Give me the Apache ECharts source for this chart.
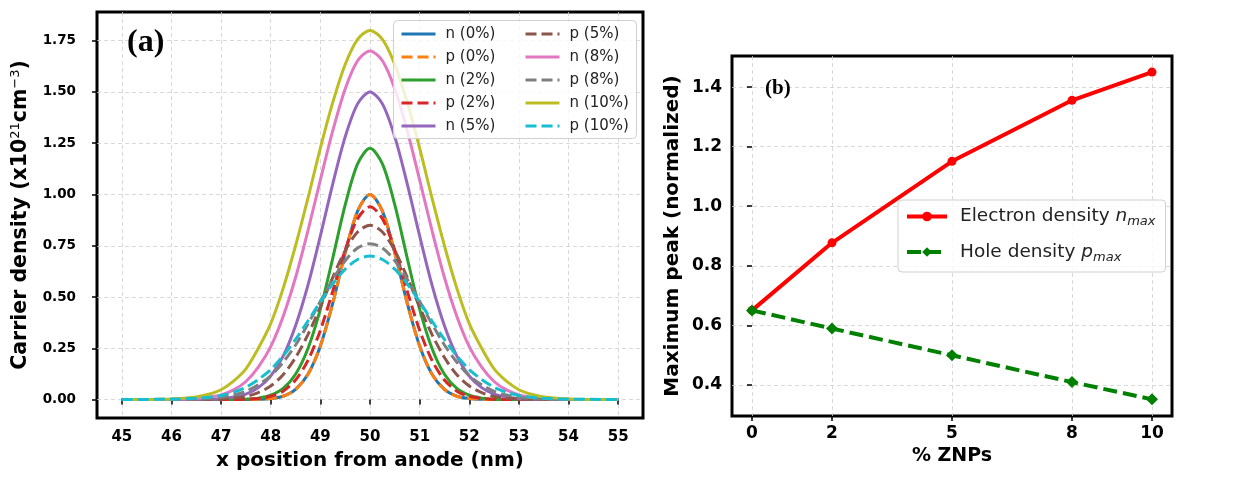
<!DOCTYPE html>
<html>
<head>
<meta charset="utf-8">
<script src="https://cdn.jsdelivr.net/npm/echarts@6/dist/echarts.min.js"></script>
<style>
  html, body { margin: 0; padding: 0; background: #fff; }
  #chart { width: 1241px; height: 480px; }
</style>
</head>
<body>
<div id="chart"></div>
<script>
// panel (a): positions along the device (nm)
const xPos = [45, 46, 46.5, 46.75, 47, 47.25, 47.5, 47.75, 48, 48.25, 48.5, 48.75, 49, 49.25, 49.5, 49.75, 50,
              50.25, 50.5, 50.75, 51, 51.25, 51.5, 51.75, 52, 52.25, 52.5, 52.75, 53, 53.25, 53.5, 54, 55];
// carrier densities (x10^21 cm^-3)
const n0  = [0, 0, 0, 0, 0, 0, 0.0002, 0.001, 0.005, 0.016, 0.049, 0.123, 0.261, 0.470, 0.715, 0.919, 1.000,
             0.919, 0.715, 0.470, 0.261, 0.123, 0.049, 0.016, 0.005, 0.001, 0.0002, 0, 0, 0, 0, 0, 0];
const p0  = [0, 0, 0, 0, 0, 0, 0.0002, 0.001, 0.005, 0.016, 0.049, 0.123, 0.261, 0.470, 0.715, 0.919, 1.000,
             0.919, 0.715, 0.470, 0.261, 0.123, 0.049, 0.016, 0.005, 0.001, 0.0002, 0, 0, 0, 0, 0, 0];
const n2  = [0, 0, 0, 0, 0, 0.0006, 0.002, 0.007, 0.021, 0.054, 0.123, 0.249, 0.441, 0.690, 0.949, 1.149, 1.225,
             1.149, 0.949, 0.690, 0.441, 0.249, 0.123, 0.054, 0.021, 0.007, 0.002, 0.0006, 0, 0, 0, 0, 0];
const p2  = [0, 0, 0, 0, 0, 0.0004, 0.0016, 0.005, 0.016, 0.041, 0.095, 0.191, 0.338, 0.529, 0.729, 0.882, 0.940,
             0.882, 0.729, 0.529, 0.338, 0.191, 0.095, 0.041, 0.016, 0.005, 0.0016, 0.0004, 0, 0, 0, 0, 0];
const n5  = [0, 0, 0.0005, 0.0015, 0.004, 0.012, 0.026, 0.058, 0.115, 0.212, 0.360, 0.558, 0.798, 1.052, 1.281, 1.442, 1.500,
             1.442, 1.281, 1.052, 0.798, 0.558, 0.360, 0.212, 0.115, 0.058, 0.026, 0.012, 0.004, 0.0015, 0.0005, 0, 0];
const p5  = [0, 0, 0, 0.001, 0.003, 0.007, 0.015, 0.034, 0.066, 0.121, 0.205, 0.317, 0.452, 0.596, 0.726, 0.817, 0.850,
             0.817, 0.726, 0.596, 0.452, 0.317, 0.205, 0.121, 0.066, 0.034, 0.015, 0.007, 0.003, 0.001, 0, 0, 0];
const n8  = [0, 0.001, 0.005, 0.011, 0.022, 0.047, 0.088, 0.158, 0.258, 0.405, 0.595, 0.824, 1.071, 1.311, 1.515, 1.652, 1.700,
             1.652, 1.515, 1.311, 1.071, 0.824, 0.595, 0.405, 0.258, 0.158, 0.088, 0.047, 0.022, 0.011, 0.005, 0.001, 0];
const p8  = [0, 0.001, 0.002, 0.005, 0.011, 0.022, 0.040, 0.072, 0.116, 0.182, 0.266, 0.368, 0.479, 0.586, 0.677, 0.739, 0.760,
             0.739, 0.677, 0.586, 0.479, 0.368, 0.266, 0.182, 0.116, 0.072, 0.040, 0.022, 0.011, 0.005, 0.002, 0.001, 0];
const n10 = [0, 0.003, 0.013, 0.026, 0.048, 0.090, 0.150, 0.250, 0.370, 0.542, 0.750, 0.982, 1.226, 1.449, 1.634, 1.757, 1.800,
             1.757, 1.634, 1.449, 1.226, 0.982, 0.750, 0.542, 0.370, 0.250, 0.150, 0.090, 0.048, 0.026, 0.013, 0.003, 0];
const p10 = [0, 0.002, 0.006, 0.011, 0.020, 0.036, 0.060, 0.098, 0.146, 0.213, 0.293, 0.383, 0.477, 0.564, 0.636, 0.683, 0.700,
             0.683, 0.636, 0.564, 0.477, 0.383, 0.293, 0.213, 0.146, 0.098, 0.060, 0.036, 0.020, 0.011, 0.006, 0.002, 0];
const xTicksA = [45, 46, 47, 48, 49, 50, 51, 52, 53, 54, 55];
const yTicksA = [0, 0.25, 0.5, 0.75, 1.0, 1.25, 1.5, 1.75];

// panel (b): normalized peaks vs ZNP loading
const znp = [0, 2, 5, 8, 10];
const nMax = [0.65, 0.877, 1.151, 1.356, 1.451];
const pMax = [0.65, 0.589, 0.499, 0.409, 0.351];
const yTicksB = [0.4, 0.6, 0.8, 1.0, 1.2, 1.4];

const FONT = 'DejaVu Sans';
const tab = ['#1f77b4', '#ff7f0e', '#2ca02c', '#d62728', '#9467bd',
             '#8c564b', '#e377c2', '#7f7f7f', '#bcbd22', '#17becf'];

const curves = [
  ['n (0%)', n0, false], ['p (0%)', p0, true],
  ['n (2%)', n2, false], ['p (2%)', p2, true],
  ['n (5%)', n5, false], ['p (5%)', p5, true],
  ['n (8%)', n8, false], ['p (8%)', p8, true],
  ['n (10%)', n10, false], ['p (10%)', p10, true]
];

// 网格虚线
const gridLine = { show: true, lineStyle: { color: '#cfcfcf', type: [4, 3], width: 0.8 } };
const tickStyle = { show: true, inside: false, length: 5, lineStyle: { color: '#000', width: 1.5 } };

const seriesA = curves.map((c, i) => ({
  name: c[0],
  type: 'line',
  xAxisIndex: 0,
  yAxisIndex: 0,
  data: xPos.map((x, k) => [x, c[1][k]]),
  showSymbol: false,
  symbol: 'none',
  smooth: 0.3,
  color: tab[i],
  lineStyle: { width: 3, color: tab[i], type: c[2] ? [11, 5] : 'solid' },
  z: 2
}));

const seriesB = [
  {
    name: 'Electron density',
    type: 'line',
    xAxisIndex: 1, yAxisIndex: 1,
    data: znp.map((x, k) => [x, nMax[k]]),
    symbol: 'circle', symbolSize: 9,
    color: '#ff0000',
    lineStyle: { width: 4, color: '#ff0000' },
    itemStyle: { color: '#ff0000' },
    z: 3
  },
  {
    name: 'Hole density',
    type: 'line',
    xAxisIndex: 1, yAxisIndex: 1,
    data: znp.map((x, k) => [x, pMax[k]]),
    symbol: 'diamond', symbolSize: 12,
    color: '#008000',
    lineStyle: { width: 4, color: '#008000', type: [14, 6] },
    itemStyle: { color: '#008000' },
    z: 4
  }
];

const legendA = (names, left) => ({
  data: names,
  orient: 'vertical',
  left: left, top: 25,
  padding: 0,
  itemWidth: 34, itemHeight: 14, itemGap: 5,
  itemStyle: { opacity: 0 },
  lineStyle: { width: 3 },
  textStyle: { fontFamily: FONT, fontSize: 15, color: '#222', lineHeight: 18, padding: [0, 0, 0, 5] },
  z: 5
});

const chart = echarts.init(document.getElementById('chart'));
chart.setOption({
  animation: false,
  backgroundColor: '#fff',
  title: [
    { text: '(a)', left: 127, top: 27, padding: 0,
      textStyle: { fontFamily: 'Liberation Serif', fontWeight: 'bold', fontSize: 32, color: '#000' } },
    { text: '(b)', left: 765, top: 78, padding: 0,
      textStyle: { fontFamily: 'Liberation Serif', fontWeight: 'bold', fontSize: 21, color: '#000' } }
  ],
  grid: [
    { left: 97, top: 12, width: 546, height: 406, show: true, borderColor: '#000', borderWidth: 3,
      backgroundColor: 'transparent', outerBoundsMode: 'none', containLabel: false },
    { left: 732, top: 56, width: 440, height: 360, show: true, borderColor: '#000', borderWidth: 3,
      backgroundColor: 'transparent', outerBoundsMode: 'none', containLabel: false }
  ],
  xAxis: [
    {
      gridIndex: 0, type: 'value', min: 44.5, max: 55.5,
      axisLine: { show: false },
      axisTick: Object.assign({ customValues: xTicksA }, tickStyle),
      splitLine: gridLine,
      axisLabel: { customValues: xTicksA, margin: 12, fontFamily: FONT, fontWeight: 'bold', fontSize: 15, color: '#000' },
      name: 'x position from anode (nm)', nameLocation: 'middle', nameGap: 33,
      nameTextStyle: { fontFamily: FONT, fontWeight: 'bold', fontSize: 20, color: '#000' }
    },
    {
      gridIndex: 1, type: 'value', min: -0.5, max: 10.5,
      axisLine: { show: false },
      axisTick: Object.assign({ customValues: znp }, tickStyle),
      splitLine: gridLine,
      axisLabel: { customValues: znp, margin: 9, fontFamily: FONT, fontWeight: 'bold', fontSize: 17, color: '#000' },
      name: '% ZNPs', nameLocation: 'middle', nameGap: 31,
      nameTextStyle: { fontFamily: FONT, fontWeight: 'bold', fontSize: 19, color: '#000' }
    }
  ],
  yAxis: [
    {
      gridIndex: 0, type: 'value', min: -0.09, max: 1.89,
      axisLine: { show: false },
      axisTick: Object.assign({ customValues: yTicksA }, tickStyle),
      splitLine: gridLine,
      axisLabel: { customValues: yTicksA, margin: 21, fontFamily: FONT, fontWeight: 'bold', fontSize: 13.5, color: '#000',
        formatter: v => v.toFixed(2) },
      name: '{b|Carrier density (x10}{s|21}{b|cm}{s|−3}{b|)}',
      nameLocation: 'middle', nameGap: 64, nameRotate: 90,
      nameTextStyle: {
        rich: {
          b: { fontFamily: FONT, fontWeight: 'bold', fontSize: 20.5, color: '#000', lineHeight: 24 },
          s: { fontFamily: FONT, fontSize: 13, color: '#000', verticalAlign: 'top', lineHeight: 13 }
        }
      }
    },
    {
      gridIndex: 1, type: 'value', min: 0.295, max: 1.505,
      axisLine: { show: false },
      axisTick: Object.assign({ customValues: yTicksB }, tickStyle),
      splitLine: gridLine,
      axisLabel: { customValues: yTicksB, margin: 10, fontFamily: FONT, fontWeight: 'bold', fontSize: 17, color: '#000',
        formatter: v => v.toFixed(1) },
      name: 'Maximum peak (normalized)', nameLocation: 'middle', nameGap: 49, nameRotate: 90,
      nameTextStyle: { fontFamily: FONT, fontWeight: 'bold', fontSize: 20, color: '#000' }
    }
  ],
  legend: [
    legendA(['n (0%)', 'p (0%)', 'n (2%)', 'p (2%)', 'n (5%)'], 400),
    legendA(['p (5%)', 'n (8%)', 'p (8%)', 'n (10%)', 'p (10%)'], 524),
    {
      data: ['Electron density', 'Hole density'],
      orient: 'vertical',
      left: 898, top: 200,
      padding: [7, 10, 8, 7],
      itemWidth: 40, itemHeight: 12, itemGap: 14,
      lineStyle: { width: 4 },
      backgroundColor: 'rgba(255,255,255,0.8)',
      borderColor: '#d0d0d0', borderWidth: 1, borderRadius: 4,
      formatter: name => name === 'Electron density'
        ? '{a|Electron density }{i|n}{s|max}'
        : '{a|Hole density }{i|p}{s|max}',
      textStyle: {
        rich: {
          a: { fontFamily: FONT, fontSize: 18.5, color: '#222', lineHeight: 24, padding: [0, 0, 0, 8] },
          i: { fontFamily: FONT, fontStyle: 'italic', fontSize: 18.5, color: '#222', lineHeight: 24 },
          s: { fontFamily: FONT, fontStyle: 'italic', fontSize: 13, color: '#222', verticalAlign: 'bottom', lineHeight: 14 }
        }
      },
      z: 5
    }
  ],
  graphic: [
    { type: 'rect', left: 393, top: 20, z: 3,
      shape: { width: 243, height: 118, r: 4 },
      style: { fill: 'rgba(255,255,255,0.8)', stroke: '#d0d0d0', lineWidth: 1 } }
  ],
  series: seriesA.concat(seriesB)
});
</script>
</body>
</html>
